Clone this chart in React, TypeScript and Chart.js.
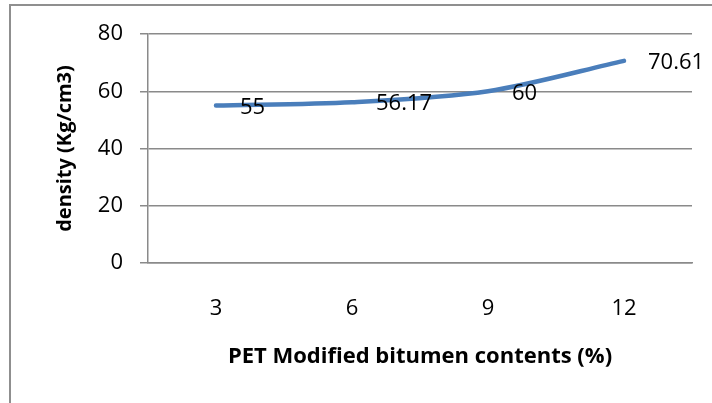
import React, { useEffect, useRef } from 'react';
import { Chart, registerables } from 'chart.js';

Chart.register(...registerables);

const categories: string[] = ['3', '6', '9', '12'];
const densityValues: number[] = [55, 56.17, 60, 70.61];
const dataLabels: string[] = ['55', '56.17', '60', '70.61'];
const yMin = 0;
const yMax = 80;
const yStep = 20;
const xTitle = 'PET Modified bitumen contents (%)';
const yTitle = 'density (Kg/cm3)';

const FONT = '"Open Sans", "Liberation Sans", sans-serif';
const GRID = '#8a8a8a';

const framePlugin = {
  id: 'frame',
  beforeDraw(chart: any) {
    const { ctx } = chart;
    ctx.save();
    ctx.fillStyle = '#ffffff';
    ctx.fillRect(0, 0, chart.width, chart.height);
    ctx.strokeStyle = '#8f8f8f';
    ctx.lineWidth = 2;
    ctx.strokeRect(10, 5, chart.width + 50, chart.height + 50);
    ctx.restore();
  },
};

const labelPlugin = {
  id: 'pointLabels',
  afterDatasetsDraw(chart: any) {
    const { ctx } = chart;
    const meta = chart.getDatasetMeta(0);
    ctx.save();
    ctx.font = `22px ${FONT}`;
    ctx.fillStyle = '#000000';
    ctx.textAlign = 'left';
    ctx.textBaseline = 'middle';
    meta.data.forEach((pt: any, i: number) => {
      ctx.fillText(dataLabels[i], pt.x + 24, pt.y + 2);
    });
    ctx.restore();
  },
};

export default function App() {
  const ref = useRef<HTMLCanvasElement | null>(null);

  useEffect(() => {
    if (!ref.current) return;
    const chart = new Chart(ref.current, {
      type: 'line',
      data: {
        labels: categories,
        datasets: [
          {
            data: densityValues,
            borderColor: '#4a7ebb',
            borderWidth: 4.5,
            pointRadius: 0,
            tension: 0.3,
            borderCapStyle: 'round',
            fill: false,
          },
        ],
      },
      options: {
        responsive: false,
        animation: false,
        devicePixelRatio: 1,
        layout: { padding: { top: 34, right: 20, left: 0, bottom: 0 } },
        plugins: {
          legend: { display: false },
          tooltip: { enabled: false },
        },
        scales: {
          x: {
            offset: true,
            grid: { display: false, drawTicks: false },
            border: { display: true, color: GRID, width: 1.5 },
            ticks: {
              color: '#000',
              font: { family: FONT, size: 22 },
              padding: 33,
              maxRotation: 0,
            },
            title: {
              display: true,
              text: xTitle,
              color: '#000',
              font: { family: FONT, size: 22, weight: 'bold' },
              padding: { top: 0, bottom: 33 },
            },
            afterFit(scale: any) {
              scale.height = 140;
            },
          },
          y: {
            min: yMin,
            max: yMax,
            ticks: {
              stepSize: yStep,
              color: '#000',
              font: { family: FONT, size: 22 },
              padding: 17,
            },
            grid: {
              color: GRID,
              lineWidth: 1.5,
              tickLength: 8,
              drawTicks: true,
            },
            border: { display: true, color: GRID, width: 1.5 },
            title: {
              display: true,
              text: yTitle,
              color: '#000',
              font: { family: FONT, size: 20, weight: 'bold' },
              padding: { top: 53, bottom: 0 },
            },
            afterFit(scale: any) {
              scale.width = 148;
            },
          },
        },
      },
      plugins: [framePlugin, labelPlugin],
    });
    return () => chart.destroy();
  }, []);

  return (
    <div style={{ position: 'absolute', left: 0, top: 0, width: 712, height: 403 }}>
      <canvas ref={ref} width={712} height={403} />
    </div>
  );
}
